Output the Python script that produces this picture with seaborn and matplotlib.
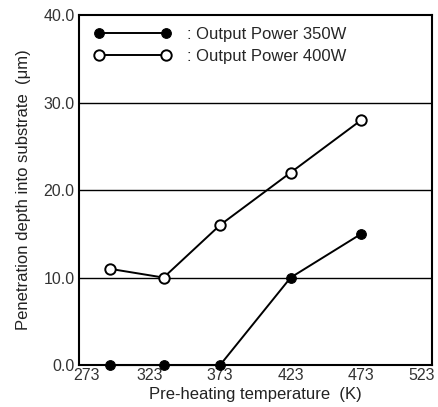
import numpy as np
import pandas as pd
import matplotlib
matplotlib.use("Agg")
import matplotlib.pyplot as plt
import matplotlib.transforms as mtransforms
import seaborn as sns

# Data
temps = [295, 333, 373, 423, 473]
depth_350 = [0, 0, 0, 10, 15]
depth_400 = [11, 10, 16, 22, 28]
x_ticks = [273, 323, 373, 423, 473, 523]
y_ticks = [0, 10, 20, 30, 40]

sns.set_style("white")
plt.rcParams['font.family'] = ['Liberation Sans', 'DejaVu Sans']

fig = plt.figure(figsize=(4.38, 4.07), dpi=100)
ax = fig.add_axes([0.180, 0.103, 0.806, 0.860])

for y in [10, 20, 30]:
    ax.axhline(y, color='black', lw=1.0, zorder=1)

sns.lineplot(x=temps, y=depth_350, ax=ax, color='black', lw=1.4, marker='o',
             markersize=7, markerfacecolor='black', markeredgecolor='black',
             label=': Output Power 350W', zorder=3, clip_on=False)
sns.lineplot(x=temps, y=depth_400, ax=ax, color='black', lw=1.4, marker='o',
             markersize=7.5, markerfacecolor='white', markeredgecolor='black',
             markeredgewidth=1.4, label=': Output Power 400W', zorder=3, clip_on=False)

ax.set_xlim(273, 523)
ax.set_ylim(0, 40)
ax.set_xticks(x_ticks)
ax.set_yticks(y_ticks)
ax.set_yticklabels([f"{v:.1f}" for v in y_ticks])
ax.tick_params(axis='both', direction='in', length=5, width=1.2, colors='black',
               labelcolor='#333333', labelsize=11.5, pad=2)
ax.tick_params(axis='y', length=0, pad=3)
for s in ax.spines.values():
    s.set_color('black')
    s.set_linewidth(1.5)

# end labels sit inward of the spines, as in the reference
xl = ax.get_xticklabels()
xl[0].set_transform(xl[0].get_transform() + mtransforms.ScaledTranslation(0.08, 0, fig.dpi_scale_trans))
xl[-1].set_transform(xl[-1].get_transform() + mtransforms.ScaledTranslation(-0.10, 0, fig.dpi_scale_trans))

ax.set_xlabel('Pre-heating temperature  (K)', fontsize=12, color='#222222', labelpad=3)
ax.set_ylabel('Penetration depth into substrate  (μm)', fontsize=12, color='#222222', labelpad=9)

leg = ax.legend(loc='upper left', frameon=False, numpoints=2, handlelength=4.6,
                fontsize=12, handletextpad=1.0, labelspacing=0.45,
                borderaxespad=0.3, bbox_to_anchor=(0.01, 1.0))

fig.savefig('out.png', dpi=100)
